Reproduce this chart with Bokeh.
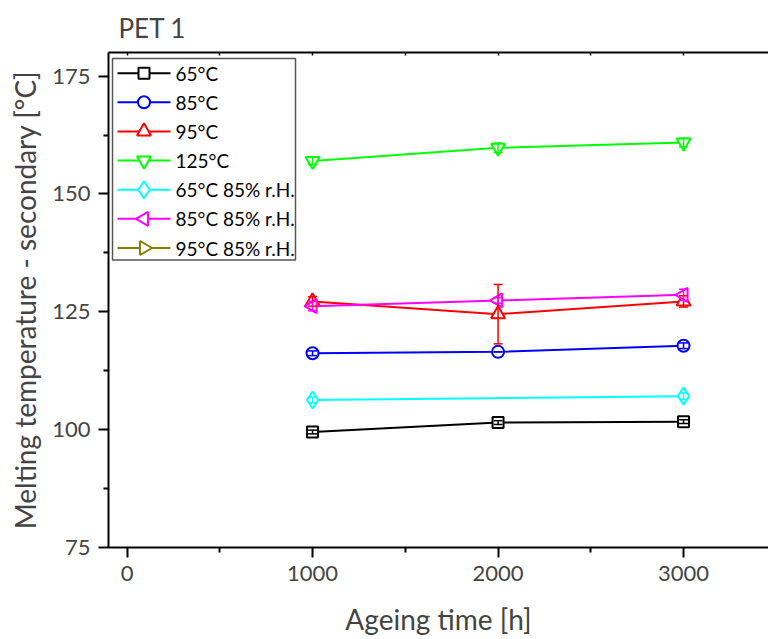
import math
from bokeh.plotting import figure
from bokeh.models import (ColumnDataSource, FixedTicker, LinearAxis, Range1d,
                          Whisker, TeeHead)
from bokeh.core.properties import value
from bokeh.embed import file_html
from bokeh.resources import INLINE

# ---------------- data ----------------
time_h = [1000, 2000, 3000]

t65 = [99.5, 101.5, 101.7]
t65_err = [0.4, 0.4, 0.4]

t85 = [116.2, 116.5, 117.8]
t85_err = [0.5, 0.0, 0.6]

t95 = [127.2, 124.5, 127.2]
t95_err = [1.0, 6.3, 1.2]

t125 = [157.0, 159.8, 160.9]
t125_err = [0.8, 1.0, 0.9]

time_h_rh65 = [1000, 3000]
t65rh = [106.3, 107.1]
t65rh_err = [0.6, 0.7]

t85rh = [126.2, 127.4, 128.6]
t85rh_err = [1.0, 0.6, 1.2]

# no measured points for this series (legend entry only)
time_h_rh95 = []
t95rh = []
t95rh_err = []

labels = ["65°C", "85°C", "95°C", "125°C", "65°C 85% r.H.", "85°C 85% r.H.", "95°C 85% r.H."]
colors = ["black", "#0000ff", "#ff0000", "#00ff00", "#00ffff", "#ff00ff", "#808000"]
markers = ["square", "circle", "triangle", "inverted_triangle", "diamond", "triangle", "triangle"]
angles = [0, 0, 0, 0, 0, math.pi / 2, -math.pi / 2]
msizes = [11, 12, 14, 14, 17, 14, 14]

x_ticks = [0, 1000, 2000, 3000]
x_minor = [500, 1500, 2500]
top_ticks = [0, 500, 1000, 1500, 2000, 2500, 3000]
y_ticks = [75, 100, 125, 150, 175]
y_minor = [87.5, 112.5, 137.5, 162.5]

FONT = "Lato"
W, H = 768, 639
BL, BT, BB = 108, 51, 92
FW, FH = W - BL, H - BT - BB

p = figure(width=W, height=H, output_backend="svg", toolbar_location=None,
           x_range=Range1d(-100, 3458), y_range=Range1d(75, 180),
           min_border_left=BL, min_border_right=0, min_border_top=BT,
           min_border_bottom=BB, title="PET 1")
# pixel-like ranges of the frame, used only to place the legend box
p.extra_x_ranges = {"px": Range1d(0, FW)}
p.extra_y_ranges = {"py": Range1d(FH, 0)}

p.outline_line_color = None
p.grid.visible = False
p.background_fill_color = "white"
p.border_fill_color = "white"

p.title.text_font = FONT
p.title.text_font_size = "26px"
p.title.text_font_style = "normal"
p.title.offset = 10
p.title.standoff = 18

for ax in (p.xaxis[0], p.yaxis[0]):
    ax.axis_line_width = 2
    ax.major_tick_line_width = 2
    ax.minor_tick_line_width = 2
    ax.major_tick_out = 10
    ax.major_tick_in = 0
    ax.minor_tick_out = 5
    ax.minor_tick_in = 0
    ax.major_label_text_font = FONT
    ax.major_label_text_font_size = "22px"
    ax.axis_label_text_font = FONT
    ax.axis_label_text_font_size = "28px"
    ax.axis_label_text_font_style = "normal"

p.xaxis[0].ticker = FixedTicker(ticks=x_ticks, minor_ticks=x_minor)
p.yaxis[0].ticker = FixedTicker(ticks=y_ticks, minor_ticks=y_minor)
p.xaxis[0].axis_label = "Ageing time [h]"
p.yaxis[0].axis_label = "Melting temperature - secondary [°C]"
p.xaxis[0].major_label_standoff = 8
p.yaxis[0].major_label_standoff = 8
p.xaxis[0].axis_label_standoff = 18
p.yaxis[0].axis_label_standoff = 7

top = LinearAxis(ticker=FixedTicker(ticks=[], minor_ticks=top_ticks),
                 axis_line_width=2,
                 major_tick_in=0, major_tick_out=0, minor_tick_in=3, minor_tick_out=0,
                 minor_tick_line_width=1.5)
p.add_layout(top, "above")

series = [
    (time_h, t65, t65_err),
    (time_h, t85, t85_err),
    (time_h, t95, t95_err),
    (time_h, t125, t125_err),
    (time_h_rh65, t65rh, t65rh_err),
    (time_h, t85rh, t85rh_err),
    (time_h_rh95, t95rh, t95rh_err),
]

for (xs, ys, es), col, mk, ang, sz in zip(series, colors, markers, angles, msizes):
    src = ColumnDataSource(dict(x=xs, y=ys,
                                lo=[y - e for y, e in zip(ys, es)],
                                hi=[y + e for y, e in zip(ys, es)]))
    p.line("x", "y", source=src, line_color=col, line_width=2)
    p.scatter("x", "y", source=src, marker=mk, angle=ang, size=sz,
              line_color=col, line_width=2, fill_color="white")
    w = Whisker(source=src, base="x", lower="lo", upper="hi", level="annotation",
                line_color=col, line_width=1.5,
                upper_head=TeeHead(size=9, line_color=col, line_width=1.5),
                lower_head=TeeHead(size=9, line_color=col, line_width=1.5))
    p.add_layout(w)

# ---------------- legend (drawn in frame pixel space) ----------------
n = len(labels)
row0, row_h = 20.7, 29.2
rows = [row0 + row_h * i for i in range(n)]
leg = ColumnDataSource(dict(
    y=rows, x0=[9] * n, x1=[62] * n, xm=[35.5] * n, xt=[67] * n,
    label=labels, color=colors, marker=markers, angle=angles, size=msizes))

p.quad(left=4, right=187, top=6, bottom=208, x_range_name="px", y_range_name="py",
       fill_color="white", line_color="#555555", line_width=1.5)
p.segment(x0="x0", y0="y", x1="x1", y1="y", source=leg, line_color="color",
          line_width=2, x_range_name="px", y_range_name="py")
p.scatter(x="xm", y="y", source=leg, marker="marker", angle="angle", size="size",
          line_color="color", line_width=2, fill_color="white",
          x_range_name="px", y_range_name="py")
p.text(x="xt", y="y", text="label", source=leg, text_baseline="middle",
       text_align="left", text_font=value(FONT), text_font_size="19px",
       text_color="black", x_range_name="px", y_range_name="py")

open("out.html", "w").write(file_html(p, INLINE))
